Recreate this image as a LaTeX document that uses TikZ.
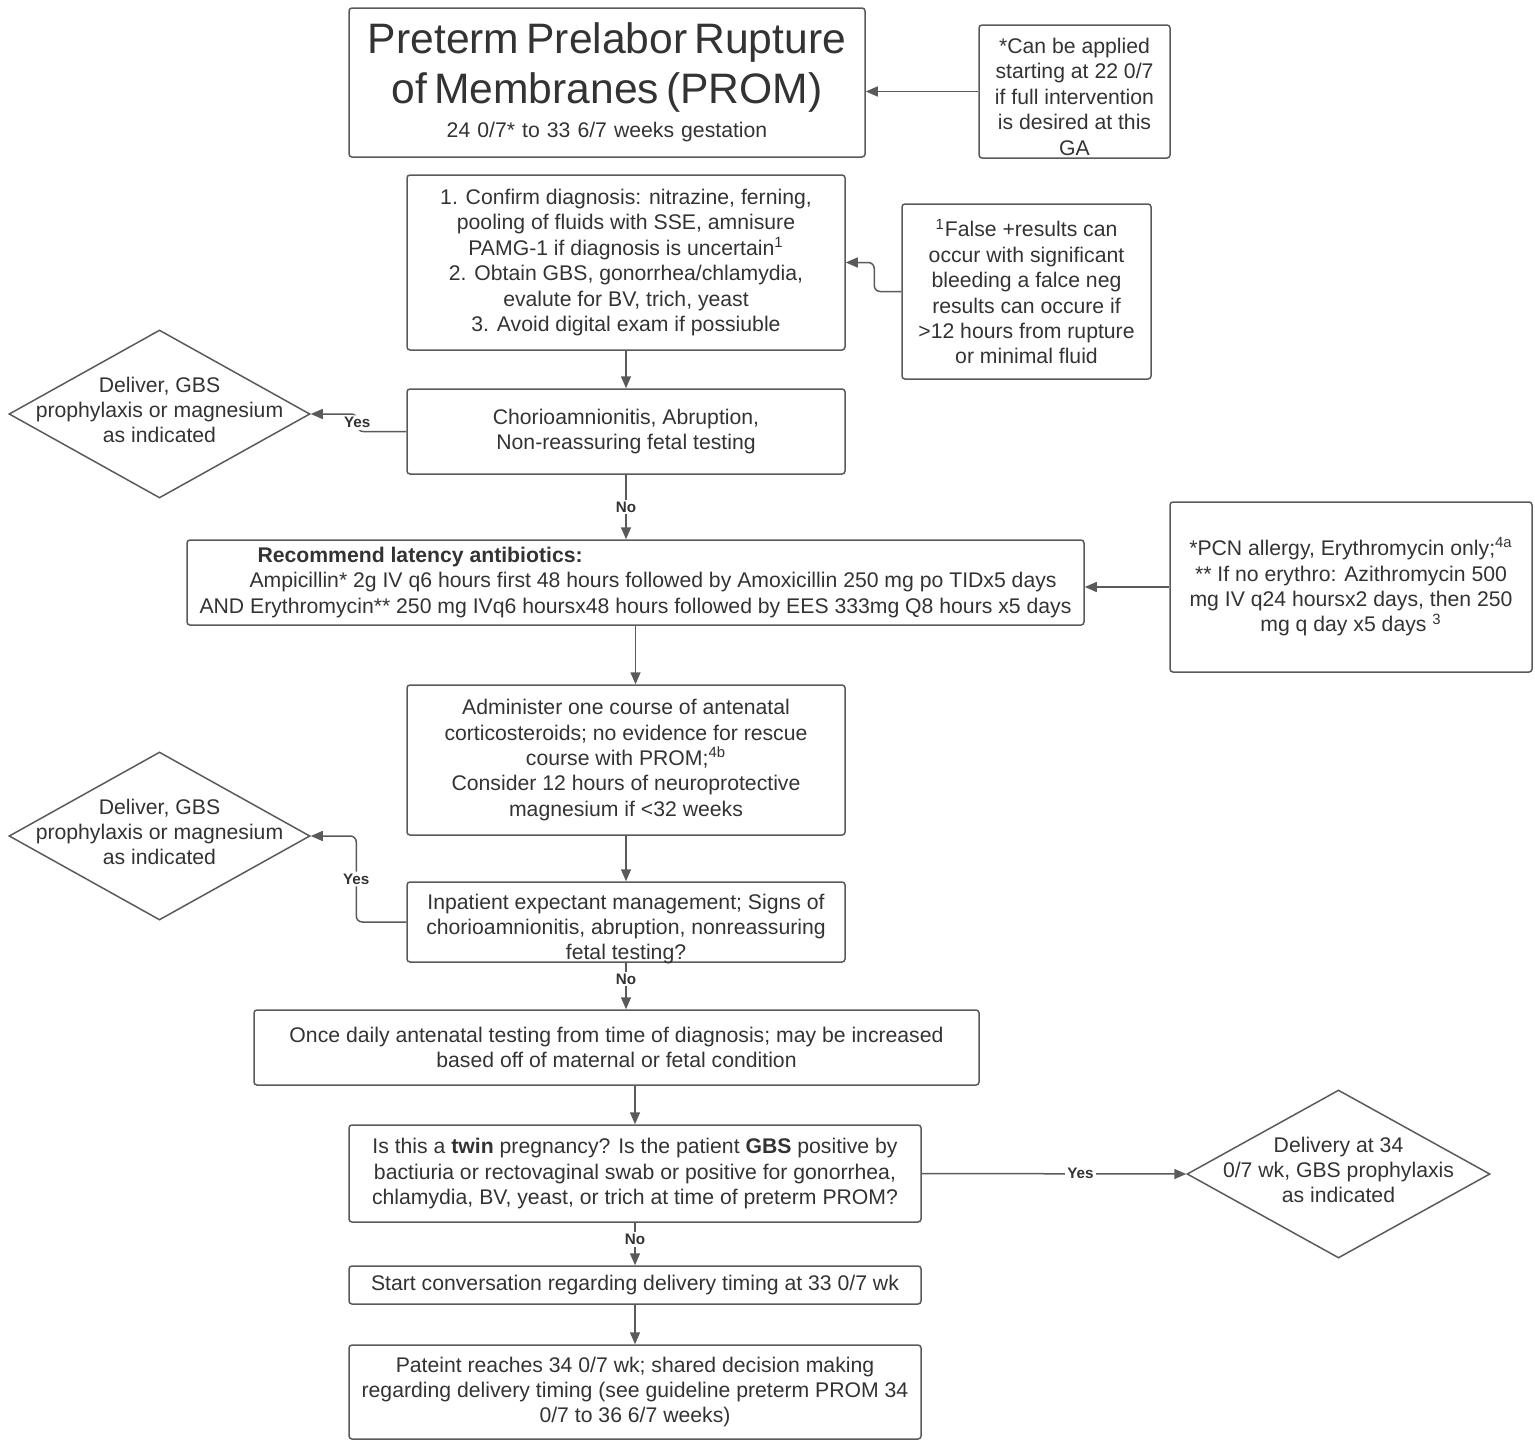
\documentclass[tikz,border=0pt]{standalone}
\usepackage{fontspec}
\setmainfont{Liberation Sans}
\usetikzlibrary{arrows.meta,shapes.geometric}
\definecolor{linec}{HTML}{5A5A5A}
\definecolor{txtc}{HTML}{333333}
\tikzset{
  box/.style={draw=linec, line width=0.75pt, rounded corners=1.5pt, align=center,
    text=txtc, font=\fontsize{10.6}{12.7}\selectfont, inner sep=0pt},
  txt/.style={align=center, text=txtc, font=\fontsize{10.6}{12.7}\selectfont, inner sep=0pt},
  dia/.style={draw=linec, line width=0.75pt, diamond, inner sep=0pt,
    minimum width=150.5pt, minimum height=84pt},
  arr/.style={draw=linec, line width=0.75pt, -{Triangle[length=6pt,width=5pt]}},
  lbl/.style={fill=white, text=txtc, font=\fontsize{7.6}{9}\bfseries, inner sep=1pt},
}
\begin{document}
\begin{tikzpicture}[x=0.5pt,y=-0.5pt]
    \useasboundingbox (0,0) rectangle (1535,1440);

    % header and its note
    \node[box, minimum width=258pt, minimum height=74.5pt, text width=256pt] (title) at (607,82.5)
        {{\fontsize{21.3}{25}\selectfont Preterm Prelabor Rupture\\ of Membranes (PROM)\par}\vspace{4.5pt}24 0/7* to 33 6/7 weeks gestation};
    \node[box, minimum width=95.5pt, minimum height=66.5pt] (note) at (1074.5,91.5)
        {\rule{0pt}{13pt}*Can be applied\\starting at 22 0/7\\if full intervention\\is desired at this\\GA};

    % first steps
    \node[box, minimum width=219pt, minimum height=87.5pt] (diag) at (626,262.5)
        {1. Confirm diagnosis: nitrazine, ferning,\\pooling of fluids with SSE, amnisure\\PAMG-1 if diagnosis is uncertain\textsuperscript{1}\\2. Obtain GBS, gonorrhea/chlamydia,\\evalute for BV, trich, yeast\\3. Avoid digital exam if possiuble};
    \node[box, minimum width=124.5pt, minimum height=87.5pt] (fals) at (1026.5,291.5)
        {\textsuperscript{1}False +results can\\occur with significant\\bleeding a falce neg\\results can occure if\\>12 hours from rupture\\or minimal fluid};
    \node[box, minimum width=219pt, minimum height=42.5pt] (chorio) at (626,431.5)
        {Chorioamnionitis, Abruption,\\Non-reassuring fetal testing};
    \node[dia] (d1) at (159.5,414) {};
    \node[txt] (d1t) at (159.5,410) {Deliver, GBS\\prophylaxis or magnesium\\as indicated};

    % antibiotics
    \node[box, align=left, minimum width=448.5pt, minimum height=42.5pt] (anti) at (635.5,582.5)
        {\hspace*{29pt}\textbf{Recommend latency antibiotics:}\\
         \hspace*{25pt}Ampicillin* 2g IV q6 hours first 48 hours followed by Amoxicillin 250 mg po TIDx5 days\\
         AND Erythromycin** 250 mg IVq6 hoursx48 hours followed by EES 333mg Q8 hours x5 days};
    \node[box, minimum width=181pt, minimum height=85pt] (pcn) at (1351,587)
        {*PCN allergy, Erythromycin only;\textsuperscript{4a}\\** If no erythro: Azithromycin 500\\mg IV q24 hoursx2 days, then 250\\mg q day x5 days \textsuperscript{3}};

    % steroids and expectant management
    \node[box, minimum width=219pt, minimum height=75pt] (ster) at (626,760)
        {Administer one course of antenatal\\corticosteroids; no evidence for rescue\\course with PROM;\textsuperscript{4b}\\Consider 12 hours of neuroprotective\\magnesium if <32 weeks};
    \node[box, minimum width=219pt, minimum height=40pt] (inp) at (626,922) {};
    \node[txt] (inpt) at (626,929)
        {Inpatient expectant management; Signs of\\chorioamnionitis, abruption, nonreassuring\\fetal testing?};
    \node[dia] (d2) at (159.5,836) {};
    \node[txt] (d2t) at (159.5,832) {Deliver, GBS\\prophylaxis or magnesium\\as indicated};

    % testing and delivery
    \node[box, minimum width=362.5pt, minimum height=37.5pt] (daily) at (616.5,1047.5)
        {Once daily antenatal testing from time of diagnosis; may be increased\\based off of maternal or fetal condition};
    \node[box, minimum width=286pt, minimum height=48.5pt] (twin) at (635,1173.5)
        {Is this a \textbf{twin} pregnancy? Is the patient \textbf{GBS} positive by\\bactiuria or rectovaginal swab or positive for gonorrhea,\\chlamydia, BV, yeast, or trich at time of preterm PROM?};
    \node[dia, minimum width=151.5pt] (d3) at (1338.5,1174) {};
    \node[txt] (d3t) at (1338.5,1170) {Delivery at 34\\0/7 wk, GBS prophylaxis\\as indicated};
    \node[box, minimum width=286pt, minimum height=19pt] (start) at (635,1285)
        {Start conversation regarding delivery timing at 33 0/7 wk};
    \node[box, minimum width=286pt, minimum height=47pt] (pat) at (635,1392)
        {Pateint reaches 34 0/7 wk; shared decision making\\regarding delivery timing (see guideline preterm PROM 34\\0/7 to 36 6/7 weeks)};

    % connectors
    \draw[arr] (note.west) -- (note.west -| title.east);
    \draw[arr, rounded corners=3pt] (fals.west) -- ++(-27,0) |- (diag.east);
    \draw[arr] (diag) -- (chorio);
    \draw[arr, rounded corners=3pt] (chorio.west) -- ++(-49,0) |- node[lbl, pos=0.25] {Yes} (d1.east);
    \draw[arr] (chorio.south) -- node[lbl] {No} (chorio.south |- anti.north);
    \draw[arr] (pcn.west) -- (pcn.west -| anti.east);
    \draw[arr] (anti.south) -- (anti.south |- ster.north);
    \draw[arr] (ster) -- (inp);
    \draw[arr, rounded corners=3pt] (inp.west) -- ++(-50,0) |- node[lbl, pos=0.25] {Yes} (d2.east);
    \draw[arr] (inp.south) -- node[lbl, pos=0.35] {No} (inp.south |- daily.north);
    \draw[arr] (twin.north |- daily.south) -- (twin.north);
    \draw[arr] (twin.east) -- node[lbl, pos=0.6] {Yes} (d3.west);
    \draw[arr] (twin.south) -- node[lbl, pos=0.4] {No} (start.north);
    \draw[arr] (start) -- (pat);
\end{tikzpicture}
\end{document}
